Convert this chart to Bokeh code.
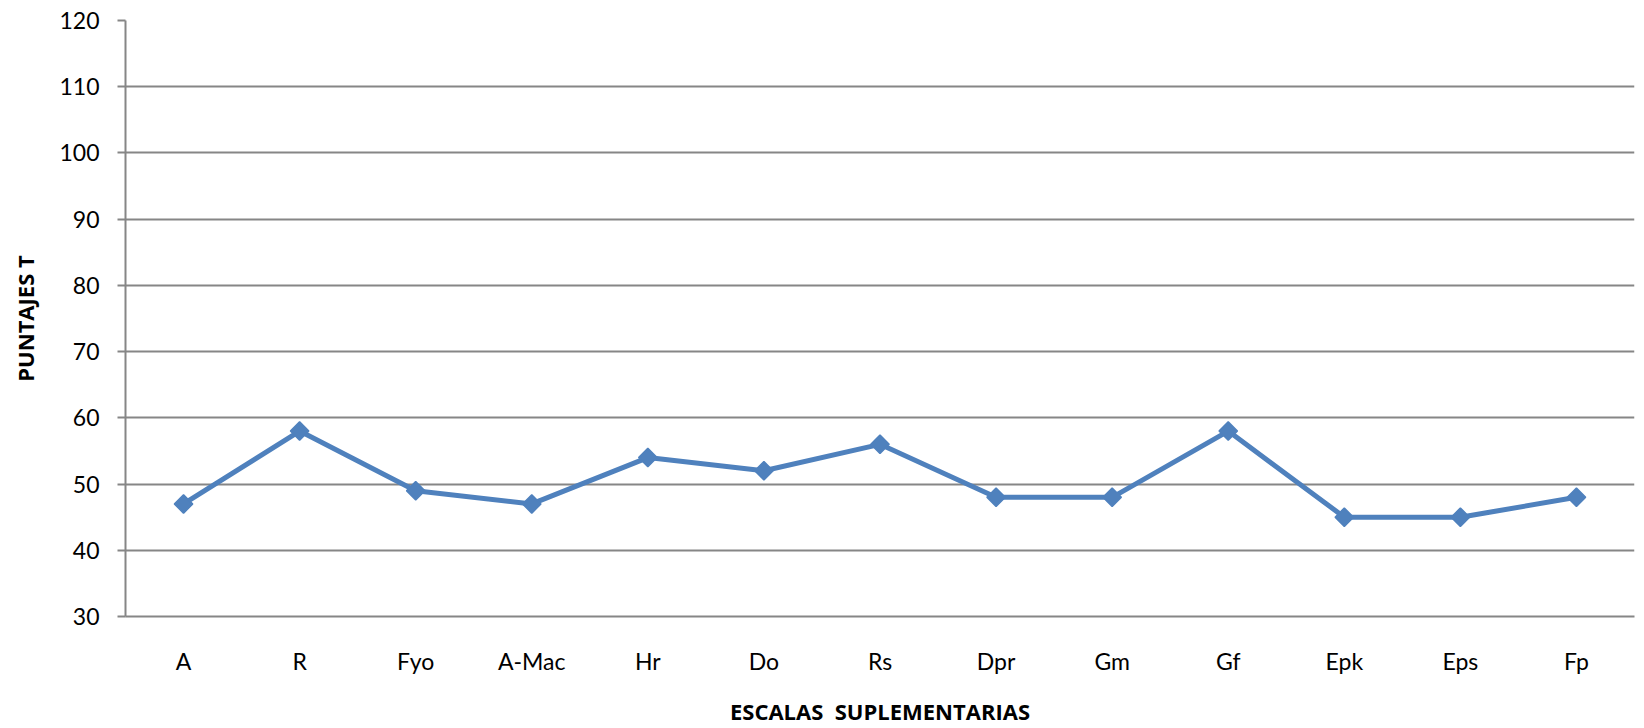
from math import pi
from bokeh.plotting import figure
from bokeh.models import FactorRange, Range1d, FixedTicker
from bokeh.embed import file_html
from bokeh.resources import INLINE

categories = ["A", "R", "Fyo", "A-Mac", "Hr", "Do", "Rs", "Dpr", "Gm", "Gf", "Epk", "Eps", "Fp"]
values = [47, 58, 49, 47, 54, 52, 56, 48, 48, 58, 45, 45, 48]
y_ticks = [30, 40, 50, 60, 70, 80, 90, 100, 110, 120]

GRID = "#868686"
BLUE = "#4F81BD"
FONT = "Lato"
TFONT = "Open Sans"

p = figure(width=1644, height=728, output_backend="svg", toolbar_location=None,
           x_range=FactorRange(*categories, range_padding=0),
           y_range=Range1d(30, 120),
           min_border_left=125, min_border_right=10, min_border_top=20, min_border_bottom=111)
p.outline_line_color = None

p.line(categories, values, line_color=BLUE, line_width=5)
p.scatter(categories, values, marker="square", angle=pi / 4, size=13,
          fill_color=BLUE, line_color=BLUE, line_width=1.5)

p.yaxis.ticker = FixedTicker(ticks=y_ticks)
p.yaxis.axis_line_color = GRID
p.yaxis.axis_line_width = 2
p.yaxis.major_tick_line_color = GRID
p.yaxis.major_tick_line_width = 2
p.yaxis.major_tick_out = 8
p.yaxis.major_tick_in = 0
p.yaxis.minor_tick_line_color = None
p.yaxis.major_label_text_font = FONT
p.yaxis.major_label_text_font_size = "23px"
p.yaxis.major_label_text_color = "#000000"
p.yaxis.major_label_standoff = 18
p.yaxis.axis_label = "PUNTAJES T"
p.yaxis.axis_label_text_font = TFONT
p.yaxis.axis_label_text_font_style = "bold"
p.yaxis.axis_label_text_font_size = "22px"
p.yaxis.axis_label_text_color = "#000000"
p.yaxis.axis_label_standoff = 16

p.xaxis.axis_line_color = GRID
p.xaxis.axis_line_width = 2
p.xaxis.major_tick_line_color = None
p.xaxis.minor_tick_line_color = None
p.xaxis.major_label_text_font = FONT
p.xaxis.major_label_text_font_size = "23px"
p.xaxis.major_label_text_color = "#000000"
p.xaxis.major_label_standoff = 24
p.xaxis.axis_label = "ESCALAS\u00a0\u00a0SUPLEMENTARIAS"
p.xaxis.axis_label_text_font = TFONT
p.xaxis.axis_label_text_font_style = "bold"
p.xaxis.axis_label_text_font_size = "22px"
p.xaxis.axis_label_text_color = "#000000"
p.xaxis.axis_label_standoff = 18

p.xgrid.grid_line_color = None
p.ygrid.grid_line_color = GRID
p.ygrid.grid_line_width = 2

open("out.html", "w").write(file_html(p, INLINE))
